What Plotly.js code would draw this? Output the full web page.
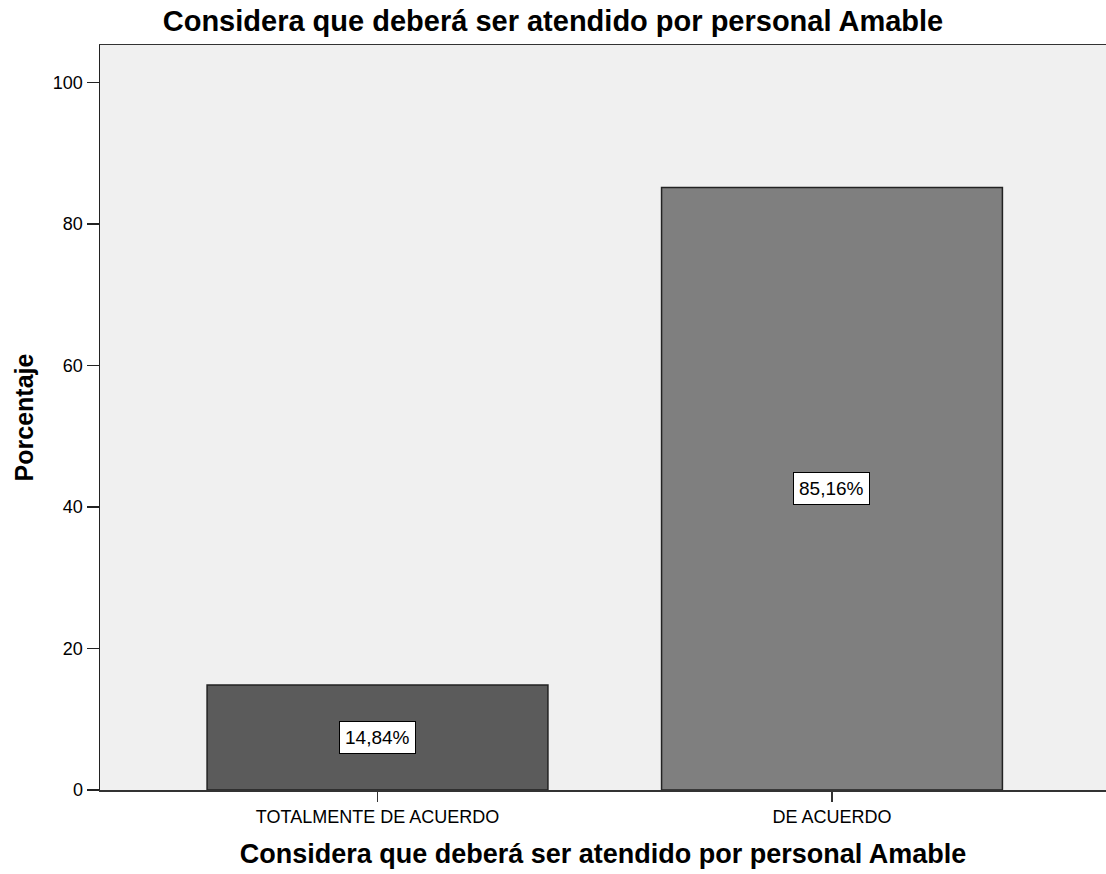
<!DOCTYPE html>
<html>
<head>
<meta charset="utf-8">
<script src="https://cdn.plot.ly/plotly-3.0.1.min.js"></script>
<style>html,body{margin:0;padding:0;background:#fff;overflow:hidden;}</style>
</head>
<body>
<div id="chart" style="width:1106px;height:874px;"></div>
<script>
const categories = ["TOTALMENTE DE ACUERDO", "DE ACUERDO"];
const percentages = [14.84, 85.16];
const valueLabels = ["14,84%", "85,16%"];
const barColors = ["#5b5b5b", "#7f7f7f"];
const yTicks = [0, 20, 40, 60, 80, 100];
const chartTitle = "Considera que deberá ser atendido por personal Amable";
const xTitle = "Considera que deberá ser atendido por personal Amable";
const yTitle = "Porcentaje";

const FONT = "Liberation Sans, Arial, sans-serif";

const trace = {
  type: "bar",
  x: categories,
  y: percentages,
  width: 0.75,
  marker: {color: barColors, line: {color: "#222222", width: 1.5}},
  hoverinfo: "x+y"
};

const annotations = categories.map((c, i) => ({
  x: c, y: percentages[i] / 2, xref: "x", yref: "y",
  text: valueLabels[i], showarrow: false,
  font: {family: FONT, size: 19, color: "#000"},
  bgcolor: "#ffffff", bordercolor: "#000000", borderwidth: 1, borderpad: 5
}));

const layout = {
  width: 1106, height: 874,
  margin: {l: 100, r: 0, t: 45, b: 84},
  paper_bgcolor: "#ffffff",
  plot_bgcolor: "#f0f0f0",
  showlegend: false,
  title: {
    text: "<b>" + chartTitle + "</b>",
    font: {family: FONT, size: 29, color: "#000"},
    x: 0.5, xref: "container", xanchor: "center",
    y: 1 - 21 / 874, yref: "container", yanchor: "middle"
  },
  xaxis: {
    type: "category",
    range: [-0.6106, 1.6029],
    showline: true, linecolor: "#333333", linewidth: 1.5,
    mirror: true,
    ticks: "outside", ticklen: 10, tickcolor: "#333333", tickwidth: 1.5,
    tickfont: {family: FONT, size: 18, color: "#000"},
    showgrid: false, zeroline: false,
    title: {text: "<b>" + xTitle + "</b>", font: {family: FONT, size: 27, color: "#000"}, standoff: 18}
  },
  yaxis: {
    range: [0, 105.3],
    tickvals: yTicks,
    ticktext: yTicks.map(String),
    showline: true, linecolor: "#222222", linewidth: 1.5,
    ticks: "outside", ticklen: 12, tickcolor: "#222222", tickwidth: 1.5,
    tickfont: {family: FONT, size: 18, color: "#000"},
    showgrid: false, zeroline: false,
    title: {text: "<b>" + yTitle + "</b>", font: {family: FONT, size: 25, color: "#000"}, standoff: 12}
  },
  annotations: annotations
};

Plotly.newPlot("chart", [trace], layout, {displayModeBar: false, staticPlot: true});
</script>
</body>
</html>
